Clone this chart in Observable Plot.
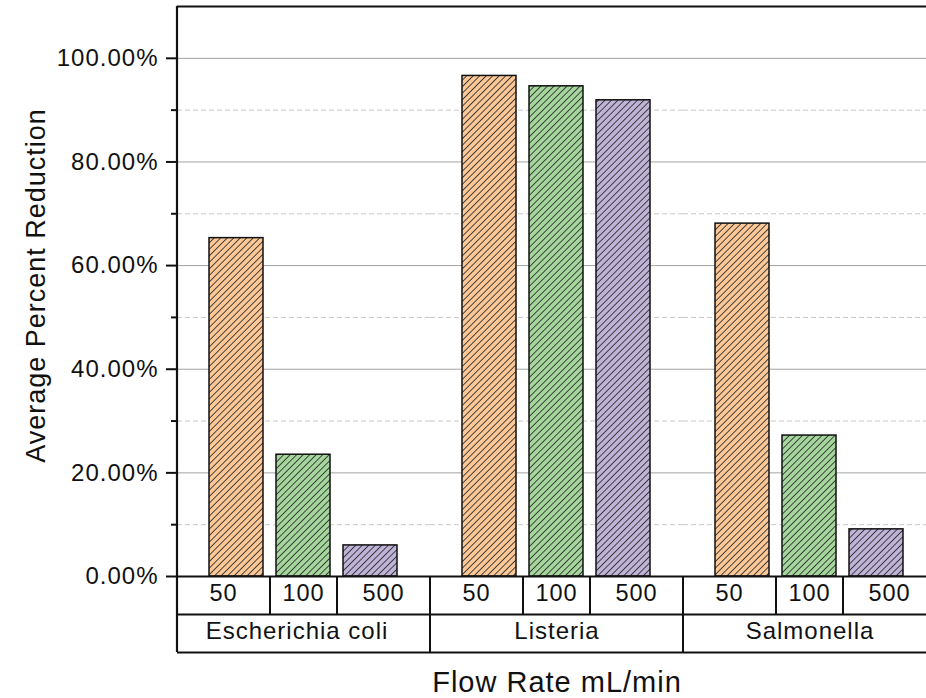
<!DOCTYPE html>
<html><head><meta charset="utf-8">
<script src="https://cdn.jsdelivr.net/npm/d3@7"></script>
<script src="https://cdn.jsdelivr.net/npm/@observablehq/plot@0.6"></script>
<style>
html,body{margin:0;padding:0;background:#fff;}
#wrap{width:926px;height:698px;overflow:hidden;}
</style></head><body>
<svg width="0" height="0" style="position:absolute">
<defs>
<pattern id="hatch" patternUnits="userSpaceOnUse" width="4.6" height="4.6" patternTransform="rotate(45)">
<line x1="2.3" y1="-1" x2="2.3" y2="5.6" stroke="#333" stroke-width="0.9"/>
</pattern>
</defs></svg>
<div id="wrap"></div>
<script>
// ---- data ----
const organisms = ["Escherichia coli", "Listeria", "Salmonella"];
const flowRates = ["50", "100", "500"];
const ecoliReduction = [65.3, 23.5, 6.0];
const listeriaReduction = [96.6, 94.6, 91.9];
const salmonellaReduction = [68.1, 27.2, 9.1];
const majorTicks = [0, 20, 40, 60, 80, 100];
const minorTicks = [10, 30, 50, 70, 90];
const barColors = ["#fdc896", "#a5d79d", "#bfb3d8"];
const yTitle = "Average Percent Reduction";
const xTitle = "Flow Rate mL/min";

const series = [ecoliReduction, listeriaReduction, salmonellaReduction];
const data = organisms.flatMap((organism, i) =>
  flowRates.map((flow, j) => ({organism, flow, value: series[i][j]})));

// ---- layout ----
const W = 940, H = 698, mL = 177, mR = 4, mT = 6, mB = 122;
const yMax = 110;
const k = (H - mT - mB) / yMax;
const rowH = 38;
const row1 = -rowH / k, row2 = -2 * rowH / k;
const facetW = (W - mL - mR) / organisms.length;
const padIn = 0.194, padOut = 0.485;
const step = facetW / (flowRates.length - padIn + 2 * padOut);
const bw = step * (1 - padIn);
const halfStep = step / 2;
const edge = padOut * step + bw / 2;
const cellShift = (padOut * step - (padIn * step) / 2) / 2;
const ink = "#111";
const firstFlow = flowRates[0], lastFlow = flowRates[flowRates.length - 1];
const labelStyle = {frameAnchor: "bottom", lineAnchor: "middle", textAnchor: "middle"};

const plot = Plot.plot({
  width: W, height: H,
  marginLeft: mL, marginRight: mR, marginTop: mT, marginBottom: mB,
  style: {fontFamily: "'Liberation Sans', Arial, sans-serif", color: ink, background: "white", maxWidth: "none", letterSpacing: "1px"},
  fx: {domain: organisms, padding: 0, axis: null, label: null},
  x: {domain: flowRates, paddingInner: padIn, paddingOuter: padOut, axis: null},
  y: {domain: [0, yMax]},
  color: {domain: flowRates, range: barColors},
  marks: [
    Plot.ruleY(minorTicks, {stroke: "#c8c8c8", strokeDasharray: "5,3"}),
    Plot.ruleY(majorTicks.filter(d => d > 0), {stroke: "#a3a3a3"}),
    Plot.barY(data, {fx: "organism", x: "flow", y: "value", fill: "flow"}),
    Plot.barY(data, {fx: "organism", x: "flow", y: "value", fill: "url(#hatch)", stroke: ink, strokeWidth: 1.5}),
    Plot.ruleY([yMax], {stroke: ink, strokeWidth: 2}),
    Plot.ruleY([0, row1, row2], {stroke: ink, strokeWidth: 2}),
    Plot.ruleX(data.filter(d => d.flow !== firstFlow), {fx: "organism", x: "flow", dx: -halfStep, y1: 0, y2: row1, stroke: ink, strokeWidth: 2}),
    Plot.ruleX(data.filter(d => d.flow === firstFlow), {fx: "organism", x: "flow", dx: -edge, y1: 0, y2: row2, stroke: ink, strokeWidth: 2}),
    Plot.ruleX(data.filter(d => d.flow === lastFlow), {fx: "organism", x: "flow", dx: edge, y1: 0, y2: row2, stroke: ink, strokeWidth: 2}),
    Plot.ruleX([organisms[0]], {fx: d => d, x: () => firstFlow, dx: -edge, y1: yMax, y2: row2, stroke: ink, strokeWidth: 2.2}),
    Plot.axisY({ticks: majorTicks, tickSize: 11, tickPadding: 8, tickFormat: d => d.toFixed(2) + "%", fontSize: 24, strokeWidth: 2, label: null}),
    Plot.axisY({ticks: minorTicks, tickSize: 6, tickFormat: () => "", strokeWidth: 2, label: null}),
    Plot.text(data.filter(d => d.flow === flowRates[0]), {...labelStyle, fx: "organism", x: "flow", text: "flow", dy: 17, dx: -cellShift, fontSize: 23.5}),
    Plot.text(data.filter(d => d.flow === flowRates[1]), {...labelStyle, fx: "organism", x: "flow", text: "flow", dy: 17, fontSize: 23.5}),
    Plot.text(data.filter(d => d.flow === flowRates[2]), {...labelStyle, fx: "organism", x: "flow", text: "flow", dy: 17, dx: cellShift, fontSize: 23.5}),
    Plot.text(organisms.slice(0, 1), {...labelStyle, fx: d => d, text: d => d, dy: 55, dx: -7, fontSize: 24}),
    Plot.text(organisms.slice(1), {...labelStyle, fx: d => d, text: d => d, dy: 55, fontSize: 24}),
    Plot.text([yTitle], {fx: () => organisms[0], text: d => d, frameAnchor: "left", lineAnchor: "middle", textAnchor: "middle", rotate: -90, dx: -141, dy: -6, fontSize: 27}),
    Plot.text([xTitle], {...labelStyle, fx: () => organisms[1], text: d => d, dy: 106, fontSize: 29})
  ]
});
document.getElementById("wrap").appendChild(plot);
</script>
</body></html>
